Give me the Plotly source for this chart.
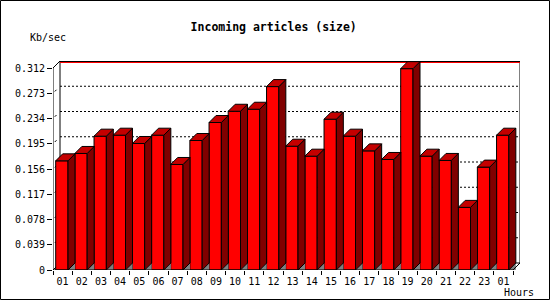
import plotly.graph_objects as go

# ---------------- data ----------------
hours = ["01", "02", "03", "04", "05", "06", "07", "08", "09", "10", "11", "12",
         "13", "14", "15", "16", "17", "18", "19", "20", "21", "22", "23", "01"]
values = [0.1686, 0.1800, 0.2067, 0.2082, 0.1954, 0.2082, 0.1630, 0.2000,
          0.2278, 0.2452, 0.2483, 0.2833, 0.1912, 0.1758, 0.2329, 0.2067,
          0.1840, 0.1707, 0.3110, 0.1758, 0.1692, 0.0967, 0.1589, 0.2082]
y_ticks = [0, 0.039, 0.078, 0.117, 0.156, 0.195, 0.234, 0.273, 0.312]
y_labels = ["0", "0.039", "0.078", "0.117", "0.156", "0.195", "0.234", "0.273", "0.312"]
title_text = "Incoming articles (size)"
y_unit = "Kb/sec"
x_unit = "Hours"

# ---------------- geometry / style ----------------
W, H = 550, 300
L, R, T, B = 53, 30, 61, 30
PW, PH = W - L - R, H - T - B
DX = 0.3652          # depth in category units (~7px)
YMAX = y_ticks[-1]
DY = 7 / PH * (YMAX / (1 - 7 / PH))  # depth in value units
YTOP = YMAX + DY
XMIN, XMAX = -0.5, len(hours) - 0.5 + DX
BAR_OFF = 0.141
BAR_W = 0.642
FONT = "DejaVu Sans Mono"

idx = list(range(len(hours)))
x0s = [i - 0.5 + BAR_OFF for i in idx]
x1s = [x + BAR_W for x in x0s]

fig = go.Figure()

# front faces
fig.add_trace(go.Bar(
    x=[x + BAR_W / 2 for x in x0s], y=values, width=BAR_W,
    marker=dict(color="#ff0000", line=dict(color="black", width=1)),
    hoverinfo="skip", showlegend=False))

# floor triangles, side faces, top faces
fx, fy, sx, sy, tx, ty = [], [], [], [], [], []
for x0, x1, v in zip(x0s, x1s, values):
    fx += [x1, x1 + DX, x1 + DX, x1, None]
    fy += [0, DY, 0, 0, None]
    sx += [x1, x1 + DX, x1 + DX, x1, x1, None]
    sy += [0, DY, v + DY, v, 0, None]
    tx += [x0, x0 + DX, x1 + DX, x1, x0, None]
    ty += [v, v + DY, v + DY, v, v, None]

fig.add_trace(go.Scatter(x=fx, y=fy, fill="toself", fillcolor="#808080",
                         mode="lines", line=dict(width=0, color="#808080"),
                         hoverinfo="skip", showlegend=False))
fig.add_trace(go.Scatter(x=sx, y=sy, fill="toself", fillcolor="#800000",
                         mode="lines", line=dict(width=1, color="black"),
                         hoverinfo="skip", showlegend=False))
fig.add_trace(go.Scatter(x=tx, y=ty, fill="toself", fillcolor="#c40000",
                         mode="lines", line=dict(width=1, color="black"),
                         hoverinfo="skip", showlegend=False))

# invisible trace for the label axis
fig.add_trace(go.Scatter(x=idx, y=values, xaxis="x2", mode="markers",
                         marker=dict(opacity=0), hoverinfo="skip", showlegend=False))

shapes = []
blk = dict(color="black", width=1)
bx0, bx1 = -0.5 + DX, len(hours) - 0.5 + DX
px_y = YTOP / PH
# back plane edges
shapes.append(dict(type="line", xref="x", yref="y", x0=bx0, x1=bx0, y0=DY, y1=YTOP, line=blk, layer="below"))
shapes.append(dict(type="line", xref="x", yref="y", x0=bx1, x1=bx1, y0=DY, y1=YTOP, line=blk, layer="below"))
shapes.append(dict(type="line", xref="x", yref="y", x0=bx0, x1=bx1, y0=DY, y1=DY, line=blk, layer="below"))
shapes.append(dict(type="line", xref="x", yref="y", x0=bx0, x1=bx1, y0=YTOP - 0.5 * px_y, y1=YTOP - 0.5 * px_y, line=blk, layer="below"))
shapes.append(dict(type="line", xref="x", yref="y", x0=bx0, x1=bx1, y0=YTOP - 1.5 * px_y, y1=YTOP - 1.5 * px_y,
                   line=dict(color="#ff0000", width=1), layer="below"))
# gridlines on back plane
for v in y_ticks[1:-1]:
    shapes.append(dict(type="line", xref="x", yref="y", x0=bx0, x1=bx1, y0=v + DY, y1=v + DY,
                       line=dict(color="black", width=1, dash="2px,2px"), layer="below"))
    shapes.append(dict(type="line", xref="x", yref="y", x0=-0.5 + DX * 0.25, x1=-0.5 + DX * 0.5,
                       y0=v + DY * 0.25, y1=v + DY * 0.5, line=blk, layer="below"))
# front y axis + diagonal to back plane
shapes.append(dict(type="line", xref="x", yref="y", x0=-0.5, x1=-0.5, y0=0, y1=YMAX, line=blk))
shapes.append(dict(type="line", xref="x", yref="y", x0=-0.5, x1=bx0, y0=YMAX, y1=YTOP, line=blk))
shapes.append(dict(type="line", xref="x", yref="y", x0=-0.5, x1=bx0, y0=0, y1=DY, line=blk, layer="below"))
# x axis + diagonal
shapes.append(dict(type="line", xref="x", yref="y", x0=-0.5, x1=len(hours) - 0.5, y0=0, y1=0, line=blk))
shapes.append(dict(type="line", xref="x", yref="y", x0=len(hours) - 0.5, x1=bx1, y0=0, y1=DY, line=blk))
# image border
shapes.append(dict(type="rect", xref="paper", yref="paper",
                   x0=(0.5 - L) / PW, x1=(W - 0.5 - L) / PW,
                   y0=-(B - 0.5) / PH, y1=1 + (T - 0.5) / PH,
                   line=blk, layer="above"))

fig.update_layout(
    width=W, height=H,
    margin=dict(l=L, r=R, t=T, b=B, pad=0),
    paper_bgcolor="white", plot_bgcolor="white",
    font=dict(family=FONT, size=10, color="black"),
    title=dict(text="<b>" + title_text + "</b>", x=273.7 / W, xanchor="center",
               y=1 - 27 / H, yanchor="middle", font=dict(family=FONT, size=11.5, color="black")),
    xaxis=dict(range=[XMIN, XMAX], tickvals=[i - 0.5 for i in range(len(hours) + 1)],
               ticktext=["" for _ in range(len(hours) + 1)], ticks="outside", ticklen=4,
               tickcolor="black", showgrid=False, zeroline=False, showline=False, fixedrange=True),
    xaxis2=dict(range=[XMIN, XMAX], overlaying="x", side="bottom", tickvals=idx, ticktext=hours,
                ticks="", showgrid=False, zeroline=False, showline=False, ticklabelstandoff=4,
                tickfont=dict(family=FONT, size=10, color="black")),
    yaxis=dict(range=[0, YTOP], tickvals=y_ticks, ticktext=y_labels, ticks="outside", ticklen=5,
               tickcolor="black", showgrid=False, zeroline=False, showline=False,
               tickfont=dict(family=FONT, size=10, color="black")),
    showlegend=False,
    shapes=shapes,
    annotations=[
        dict(text=y_unit, xref="paper", yref="paper", x=(47.5 - L) / PW, y=(H - B - 37.5) / PH,
             xanchor="center", yanchor="middle", showarrow=False, font=dict(family=FONT, size=10)),
        dict(text=x_unit, xref="paper", yref="paper", x=(519 - L) / PW, y=(H - B - 292.5) / PH,
             xanchor="center", yanchor="middle", showarrow=False, font=dict(family=FONT, size=10)),
    ],
)

fig.write_html("out.html")
